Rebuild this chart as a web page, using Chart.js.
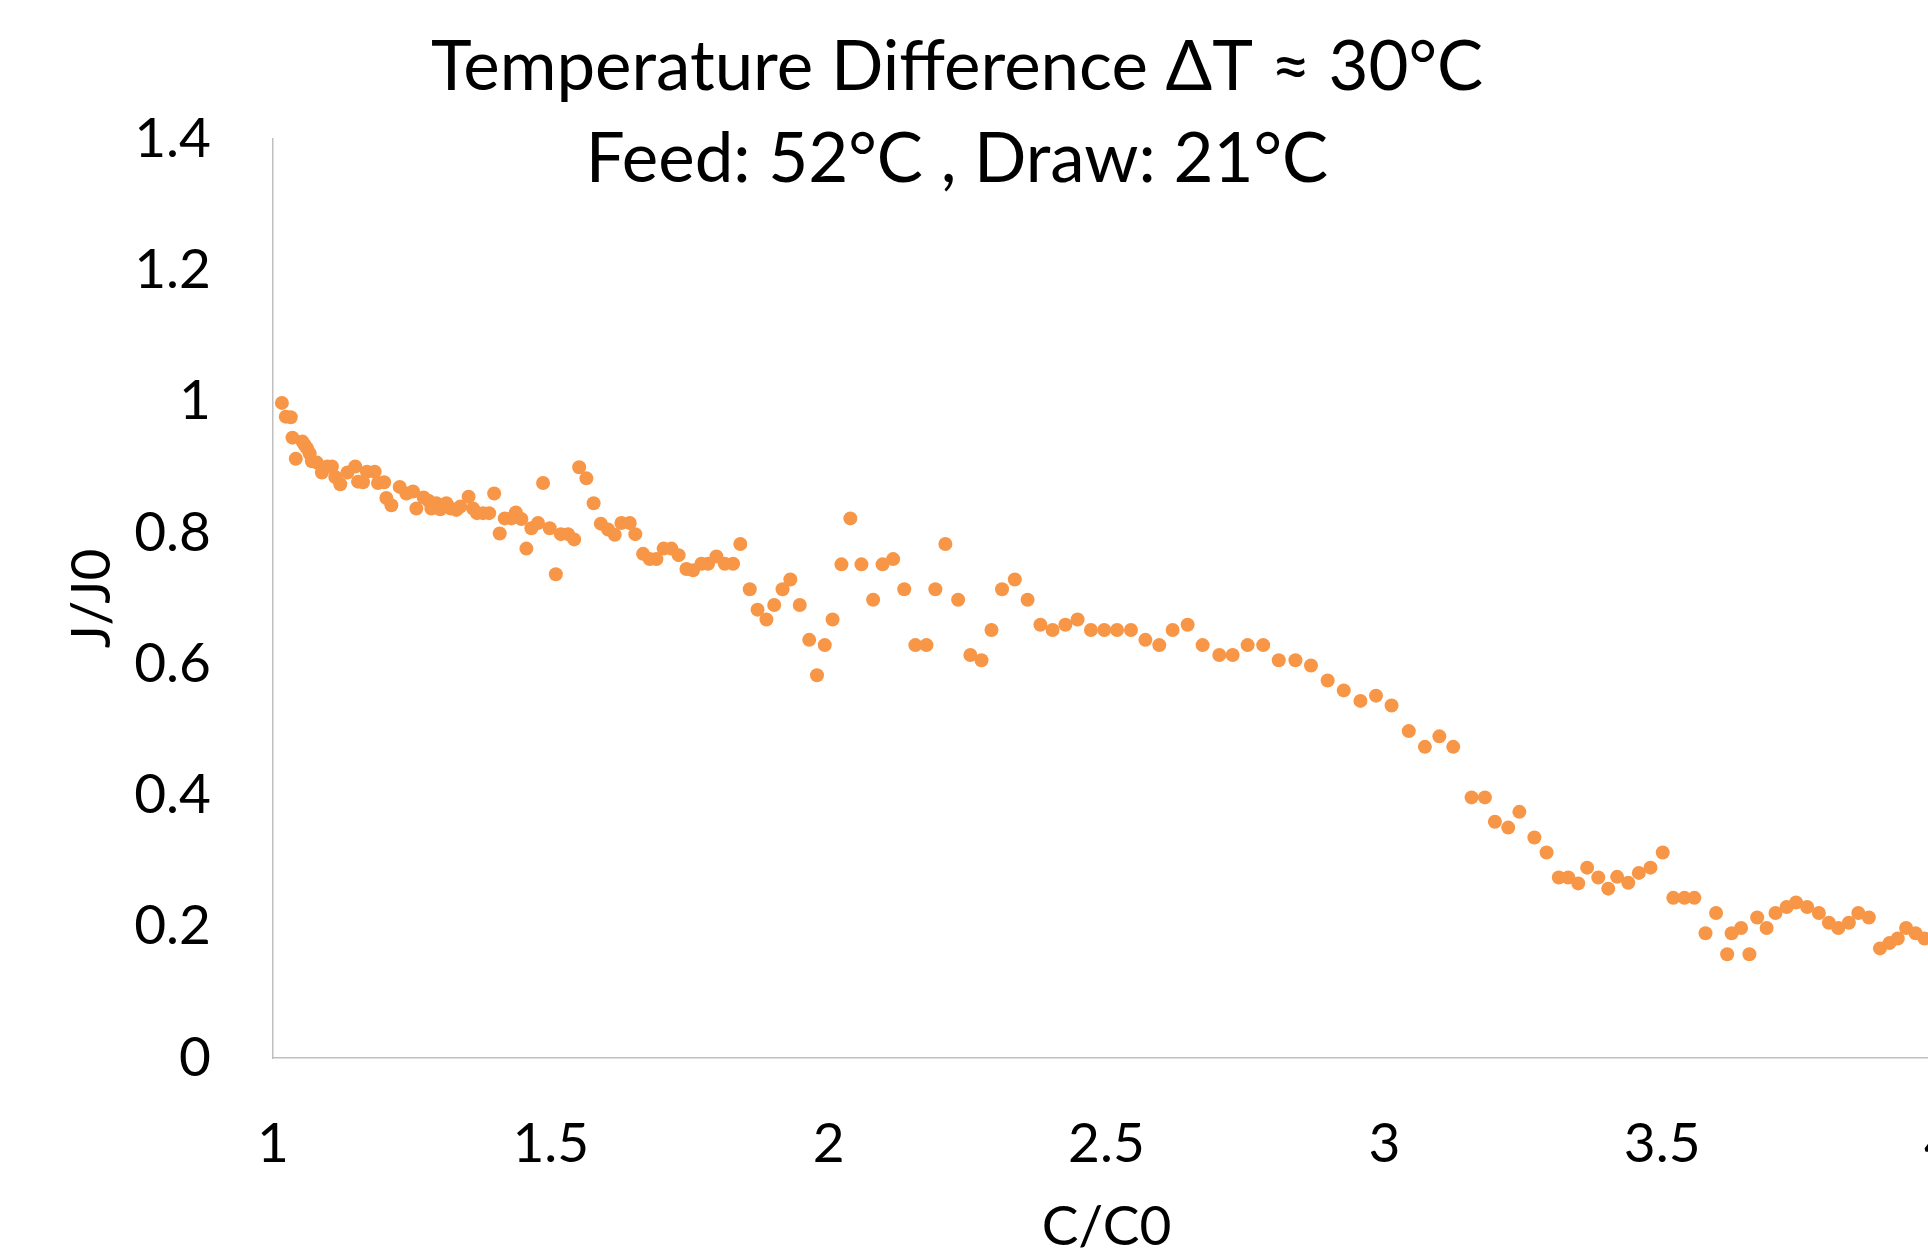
<!DOCTYPE html>
<html>
<head>
<meta charset="utf-8">
<script src="https://cdn.jsdelivr.net/npm/chart.js@4"></script>
<style>
  html, body { margin: 0; padding: 0; background: #ffffff; overflow: hidden; width: 1928px; height: 1252px; }
  #wrap { position: absolute; left: -33px; top: 0; width: 1980px; height: 1300px; }
  canvas { display: block; }
</style>
</head>
<body>
<div id="wrap"><canvas id="c" width="1980" height="1300"></canvas></div>
<script>
// ---- data ----
const concentrationRatio = [
  1.016, 1.023, 1.032, 1.035, 1.041, 1.053, 1.057, 1.061, 1.066, 1.070,
  1.079, 1.088, 1.098, 1.106, 1.112, 1.121, 1.134, 1.148, 1.153, 1.162,
  1.169, 1.183, 1.189, 1.200, 1.204, 1.213, 1.228, 1.240, 1.252, 1.258,
  1.271, 1.280, 1.285, 1.294, 1.301, 1.312, 1.320, 1.330, 1.337, 1.352,
  1.360, 1.367, 1.378, 1.389, 1.398, 1.408, 1.417, 1.429, 1.437, 1.447,
  1.456, 1.465, 1.477, 1.486, 1.498, 1.509, 1.518, 1.531, 1.542, 1.551,
  1.564, 1.577, 1.590, 1.603, 1.615, 1.627, 1.642, 1.652, 1.666, 1.678,
  1.690, 1.703, 1.717, 1.730, 1.744, 1.756, 1.771, 1.783, 1.798, 1.813,
  1.828, 1.841, 1.858, 1.872, 1.888, 1.902, 1.917, 1.931, 1.948, 1.965,
  1.979, 1.993, 2.007, 2.023, 2.039, 2.059, 2.080, 2.097, 2.116, 2.136,
  2.156, 2.176, 2.192, 2.210, 2.233, 2.255, 2.275, 2.293, 2.312, 2.335,
  2.358, 2.381, 2.403, 2.426, 2.448, 2.472, 2.496, 2.519, 2.544, 2.570,
  2.595, 2.619, 2.646, 2.673, 2.703, 2.727, 2.754, 2.782, 2.810, 2.840,
  2.868, 2.898, 2.927, 2.957, 2.985, 3.013, 3.044, 3.073, 3.099, 3.124,
  3.157, 3.181, 3.199, 3.223, 3.243, 3.270, 3.292, 3.314, 3.331, 3.349,
  3.365, 3.385, 3.403, 3.419, 3.439, 3.458, 3.479, 3.501, 3.520, 3.540,
  3.558, 3.578, 3.597, 3.617, 3.625, 3.642, 3.657, 3.671, 3.688, 3.704,
  3.724, 3.741, 3.761, 3.782, 3.800, 3.817, 3.836, 3.853, 3.872, 3.892,
  3.909, 3.924, 3.939, 3.956, 3.972
];
const fluxRatio = [
  0.998, 0.977, 0.976, 0.945, 0.913, 0.939, 0.934, 0.929, 0.921, 0.909,
  0.907, 0.892, 0.901, 0.901, 0.885, 0.874, 0.892, 0.901, 0.878, 0.877,
  0.893, 0.893, 0.876, 0.877, 0.853, 0.842, 0.870, 0.860, 0.863, 0.837,
  0.854, 0.849, 0.837, 0.845, 0.836, 0.845, 0.837, 0.835, 0.840, 0.855,
  0.837, 0.830, 0.830, 0.830, 0.860, 0.799, 0.822, 0.822, 0.831, 0.821,
  0.776, 0.807, 0.815, 0.876, 0.807, 0.737, 0.798, 0.798, 0.790, 0.900,
  0.883, 0.845, 0.814, 0.805, 0.797, 0.815, 0.815, 0.798, 0.768, 0.760,
  0.760, 0.776, 0.776, 0.766, 0.745, 0.743, 0.753, 0.753, 0.764, 0.753,
  0.753, 0.783, 0.714, 0.683, 0.668, 0.690, 0.714, 0.729, 0.690, 0.637,
  0.583, 0.629, 0.668, 0.752, 0.822, 0.752, 0.698, 0.752, 0.760, 0.714,
  0.629, 0.629, 0.714, 0.783, 0.698, 0.614, 0.606, 0.652, 0.714, 0.729,
  0.698, 0.660, 0.652, 0.660, 0.668, 0.652, 0.652, 0.652, 0.652, 0.637,
  0.629, 0.652, 0.660, 0.629, 0.614, 0.614, 0.629, 0.629, 0.606, 0.606,
  0.598, 0.575, 0.560, 0.544, 0.552, 0.537, 0.498, 0.474, 0.490, 0.474,
  0.397, 0.397, 0.360, 0.351, 0.375, 0.336, 0.313, 0.275, 0.275, 0.266,
  0.290, 0.275, 0.258, 0.276, 0.267, 0.282, 0.290, 0.313, 0.244, 0.244,
  0.244, 0.190, 0.221, 0.158, 0.190, 0.198, 0.158, 0.214, 0.198, 0.221,
  0.230, 0.237, 0.230, 0.221, 0.206, 0.198, 0.206, 0.221, 0.214, 0.167,
  0.175, 0.182, 0.198, 0.190, 0.182
];
const xTickValues = [1, 1.5, 2, 2.5, 3, 3.5, 4];
const yTickValues = [0, 0.2, 0.4, 0.6, 0.8, 1, 1.2, 1.4];
const titleLines = ['Temperature Difference \u0394T \u2248 30\u00B0C', 'Feed: 52\u00B0C , Draw: 21\u00B0C'];
const xAxisTitle = 'C/C0';
const yAxisTitle = 'J/J0';

const points = concentrationRatio.map((x, i) => ({ x: x, y: fluxRatio[i] }));
const FONT = 'Lato, "Open Sans", "DejaVu Sans", sans-serif';
const plainLabel = v => String(Math.round(v * 10) / 10);

new Chart(document.getElementById('c'), {
  type: 'scatter',
  data: {
    datasets: [{
      data: points,
      pointRadius: 7,
      pointHoverRadius: 7,
      pointBackgroundColor: '#F79646',
      pointBorderColor: '#F79646',
      pointBorderWidth: 0
    }]
  },
  options: {
    responsive: false,
    animation: false,
    devicePixelRatio: 1,
    events: [],
    layout: { padding: { top: 0, left: 0, right: 0, bottom: 0 } },
    plugins: {
      legend: { display: false },
      tooltip: { enabled: false },
      title: {
        display: true,
        text: titleLines,
        color: '#000000',
        font: { family: FONT, size: 69, weight: 'normal', lineHeight: 1.3333 },
        padding: { top: 22, bottom: -67 }
      }
    },
    scales: {
      x: {
        type: 'linear',
        min: 1,
        max: 4,
        afterBuildTicks: s => { s.ticks = xTickValues.map(v => ({ value: v })); },
        afterFit: s => { s.height = 242; s.paddingLeft = 0; s.paddingRight = 0; },
        grid: { display: false, drawTicks: false },
        border: { display: true, color: '#bfbfbf', width: 1.5 },
        ticks: {
          color: '#000000',
          padding: 53,
          maxRotation: 0,
          autoSkip: false,
          callback: plainLabel,
          font: { family: FONT, size: 55, lineHeight: 1.2 }
        },
        title: {
          display: true,
          text: xAxisTitle,
          color: '#000000',
          font: { family: FONT, size: 55, lineHeight: 1.2 },
          padding: { top: 0, bottom: 40 }
        }
      },
      y: {
        type: 'linear',
        min: 0,
        max: 1.4,
        afterBuildTicks: s => { s.ticks = yTickValues.map(v => ({ value: v })); },
        afterFit: s => { s.width = 306; },
        grid: { display: false, drawTicks: false },
        border: { display: true, color: '#bfbfbf', width: 1.5 },
        ticks: {
          color: '#000000',
          padding: 62,
          autoSkip: false,
          callback: plainLabel,
          font: { family: FONT, size: 55, lineHeight: 1.2 }
        },
        title: {
          display: true,
          text: yAxisTitle,
          color: '#000000',
          font: { family: FONT, size: 55, lineHeight: 1.2 },
          padding: { top: 92, bottom: 0 }
        }
      }
    }
  }
});
</script>
</body>
</html>
